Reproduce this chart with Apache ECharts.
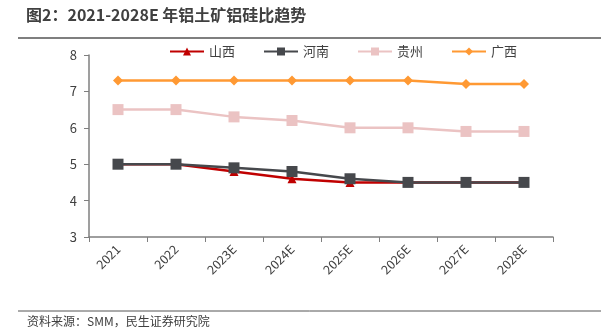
<!DOCTYPE html>
<html><head><meta charset="utf-8">
<script src="https://cdn.jsdelivr.net/npm/echarts@6/dist/echarts.min.js"></script>
<style>html,body{margin:0;padding:0;background:#fff}#c{width:614px;height:334px}</style>
</head><body><div id="c"></div>
<script>
const categories = ['2021','2022','2023E','2024E','2025E','2026E','2027E','2028E'];
const shanxi = [5, 5, 4.8, 4.6, 4.5, 4.5, 4.5, 4.5];
const henan = [5, 5, 4.9, 4.8, 4.6, 4.5, 4.5, 4.5];
const guizhou = [6.5, 6.5, 6.3, 6.2, 6.0, 6.0, 5.9, 5.9];
const guangxi = [7.3, 7.3, 7.3, 7.3, 7.3, 7.3, 7.2, 7.2];
const titleText = '图2：2021-2028E 年铝土矿铝硅比趋势';
const sourceText = '资料来源：SMM，民生证券研究院';
const font = '"Noto Sans CJK SC", "Noto Sans", sans-serif';

const chart = echarts.init(document.getElementById('c'));
function s(name, data, color, symbol, size, z) {
  return {name, type:'line', data, symbol, symbolSize:size, z,
    lineStyle:{color, width:2.5}, itemStyle:{color}};
}
chart.setOption({
  animation:false,
  textStyle:{fontFamily:font},
  graphic:[
    {type:'text', left:26, top:7, style:{text:titleText, font:'bold 16px '+font, fill:'#404040'}},
    {type:'line', shape:{x1:18,y1:38,x2:601,y2:38}, style:{stroke:'#555', lineWidth:1.5}},
    {type:'line', shape:{x1:18,y1:311,x2:601,y2:311}, style:{stroke:'#555', lineWidth:1}},
    {type:'text', left:27, top:315, style:{text:sourceText, font:'12px '+font, fill:'#404040'}}
  ],
  legend:{top:40, left:164, itemGap:28, itemWidth:34, itemHeight:10,
    textStyle:{fontSize:13, color:'#404040', fontFamily:font},
    data:['山西','河南','贵州','广西']},
  grid:{left:89, right:61, top:55, bottom:97},
  xAxis:{type:'category', data:categories, boundaryGap:true,
    axisLine:{lineStyle:{color:'#7f7f7f', width:1.5}},
    axisTick:{show:true, alignWithLabel:false, length:5, lineStyle:{color:'#7f7f7f'}},
    axisLabel:{rotate:45, color:'#404040', fontSize:12.5, margin:10, fontFamily:font}},
  yAxis:{type:'value', min:3, max:8, interval:1,
    axisLine:{show:true, lineStyle:{color:'#7f7f7f', width:1.5}},
    axisTick:{show:true, length:5, lineStyle:{color:'#7f7f7f'}},
    splitLine:{show:false},
    axisLabel:{color:'#404040', fontSize:13, margin:12, fontFamily:font}},
  series:[
    s('山西', shanxi, '#C00000', 'triangle', 9, 3),
    s('河南', henan, '#46484C', 'rect', 11, 4),
    s('贵州', guizhou, '#EBC3C3', 'rect', 11, 2),
    s('广西', guangxi, '#FF9933', 'diamond', 10, 2)
  ]
});
</script></body></html>
